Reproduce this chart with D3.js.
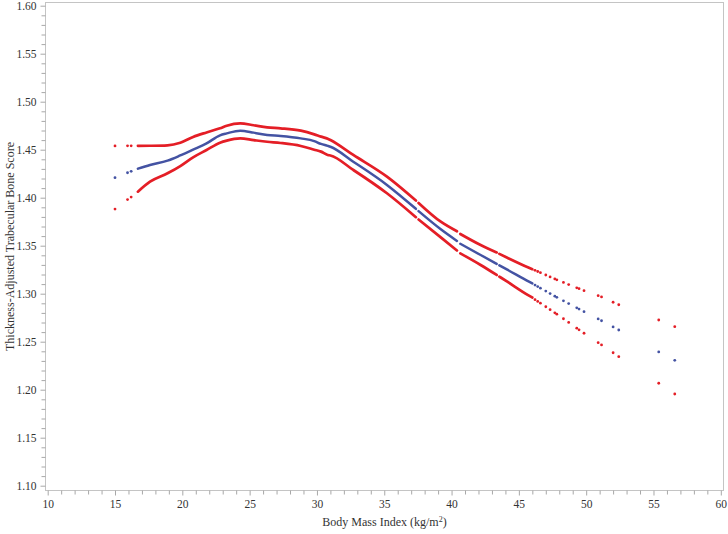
<!DOCTYPE html>
<html>
<head>
<meta charset="utf-8">
<script src="https://cdn.jsdelivr.net/npm/d3@7"></script>
<style>
  html, body { margin: 0; padding: 0; background: #fff; }
  svg { display: block; }
  text { font-family: "Liberation Serif", "Times New Roman", serif; fill: #333; }
</style>
</head>
<body>
<svg id="chart" width="728" height="534"></svg>
<script>
// ---- Data ----
// Dense part of the curves (null = visible gap between runs of points)
const denseBmi   = [16.7, 17.6, 18.9, 19.85, 20.8, 21.8, 22.8, 23.3, 24.3, 25.3, 26.3, 27.3, 28.8, 29.8, 30.3, 30.8, 31.0, 32.7, 35.2, 37.35, 37.45, 37.55, 39.2, 40.4, 40.52, 40.65, 42.16, 43.35, 43.45, 43.55, 44.14, 45.75, 46.0];
const denseFit   = [1.4302, 1.4340, 1.4386, 1.4440, 1.4500, 1.4565, 1.4650, 1.4670, 1.4698, 1.4678, 1.4653, 1.4643, 1.4618, 1.4590, 1.4560, 1.4540, 1.4531, 1.4375, 1.4133, 1.3884, null, 1.3860, 1.3671, 1.3550, null, 1.3520, 1.3403, 1.3310, null, 1.3295, 1.3250, 1.3125, 1.3107];
const denseLower = [1.4063, 1.4167, 1.4254, 1.4330, 1.4421, 1.4497, 1.4573, 1.4595, 1.4618, 1.4600, 1.4583, 1.4570, 1.4539, 1.4500, 1.4480, 1.4445, 1.4440, 1.4289, 1.4046, 1.3797, null, 1.3773, 1.3587, 1.3450, null, 1.3420, 1.3299, 1.3195, null, 1.3178, 1.3125, 1.2980, 1.2960];
const denseUpper = [1.4540, 1.4541, 1.4546, 1.4573, 1.4633, 1.4680, 1.4723, 1.4750, 1.4775, 1.4755, 1.4733, 1.4723, 1.4698, 1.4660, 1.4636, 1.4615, 1.4601, 1.4445, 1.4219, 1.3970, null, 1.3946, 1.3750, 1.3650, null, 1.3622, 1.3507, 1.3430, null, 1.3415, 1.3375, 1.3270, 1.3255];

// Isolated points
const sparseBmi   = [15.0, 15.93, 16.2, 46.2, 46.4, 46.6, 47.0, 47.32, 47.67, 47.82, 48.31, 48.7, 49.3, 49.47, 49.84, 50.89, 51.14, 52.0, 52.42, 55.39, 56.58];
const sparseFit   = [1.4209, 1.4260, 1.4275, 1.3090, 1.3074, 1.3058, 1.3027, 1.3001, 1.2974, 1.2962, 1.2926, 1.2897, 1.2853, 1.2840, 1.2813, 1.2737, 1.2718, 1.2654, 1.2622, 1.2393, 1.2306];
const sparseLower = [1.3882, 1.3980, 1.4007, 1.2938, 1.2920, 1.2901, 1.2864, 1.2834, 1.2801, 1.2787, 1.2739, 1.2701, 1.2641, 1.2624, 1.2588, 1.2490, 1.2466, 1.2385, 1.2344, 1.2067, 1.1955];
const sparseUpper = [1.4539, 1.4540, 1.4540, 1.3243, 1.3231, 1.3219, 1.3195, 1.3175, 1.3154, 1.3145, 1.3117, 1.3095, 1.3061, 1.3052, 1.3031, 1.2979, 1.2966, 1.2911, 1.2885, 1.2726, 1.2656];

const xTicks = [10, 15, 20, 25, 30, 35, 40, 45, 50, 55, 60];
const yTicks = [1.10, 1.15, 1.20, 1.25, 1.30, 1.35, 1.40, 1.45, 1.50, 1.55, 1.60];
const xTitle = "Body Mass Index (kg/m²)";
const yTitle = "Thickness-Adjusted Trabecular Bone Score";

// ---- Layout ----
const RED = "#e41e26", BLUE = "#4453a3", FRAME = "#c4c4c4";
const frame = { left: 45.5, top: 2.5, right: 723.5, bottom: 490.5 };

const svg = d3.select("#chart");
const x = d3.scaleLinear().domain([10, 60]).range([47.7, 720.8]);
const y = d3.scaleLinear().domain([1.10, 1.60]).range([485.7, 5.7]);

// frame
svg.append("rect")
  .attr("x", frame.left).attr("y", frame.top)
  .attr("width", frame.right - frame.left).attr("height", frame.bottom - frame.top)
  .attr("fill", "none").attr("stroke", FRAME).attr("stroke-width", 1);

// minor ticks
const xMinor = d3.range(10, 60.001, 1).filter(v => !xTicks.includes(v));
const yMinor = d3.range(110, 160.001, 1).map(v => v / 100).filter(v => !yTicks.some(t => Math.abs(t - v) < 1e-6));

const xAxis = svg.append("g").attr("transform", `translate(0,${frame.bottom})`)
  .call(d3.axisBottom(x).tickValues(xTicks).tickSize(5).tickPadding(4).tickFormat(d3.format("d")));
const xAxisMinor = svg.append("g").attr("transform", `translate(0,${frame.bottom})`)
  .call(d3.axisBottom(x).tickValues(xMinor).tickSize(4).tickFormat(""));
const yAxis = svg.append("g").attr("transform", `translate(${frame.left},0)`)
  .call(d3.axisLeft(y).tickValues(yTicks).tickSize(5).tickPadding(4).tickFormat(d3.format(".2f")));
const yAxisMinor = svg.append("g").attr("transform", `translate(${frame.left},0)`)
  .call(d3.axisLeft(y).tickValues(yMinor).tickSize(4).tickFormat(""));

[xAxis, xAxisMinor, yAxis, yAxisMinor].forEach(g => {
  g.select(".domain").remove();
  g.selectAll("line").attr("stroke", "#a8a8a8");
  g.selectAll("text").attr("font-family", "Liberation Serif, Times New Roman, serif")
    .attr("font-size", 11.5).attr("fill", "#333");
});

// axis titles
svg.append("text").attr("x", (frame.left + frame.right) / 2).attr("y", 526)
  .attr("text-anchor", "middle").attr("font-size", 12).text("Body Mass Index (kg/m")
  .append("tspan").attr("font-size", 8).attr("dy", -4).text("2")
  .select(function () { return this.parentNode; })
  .append("tspan").attr("dy", 4).text(")");

svg.append("text")
  .attr("transform", `translate(14,${(frame.top + frame.bottom) / 2}) rotate(-90)`)
  .attr("text-anchor", "middle").attr("font-size", 12).text(yTitle);

// curves (dense runs)
const plot = svg.append("g");
function denseLine(vals, color, w) {
  const pts = denseBmi.map((b, i) => ({ b, v: vals[i] }));
  const line = d3.line().defined(d => d.v != null)
    .x(d => x(d.b)).y(d => y(d.v)).curve(d3.curveMonotoneX);
  plot.append("path").attr("d", line(pts)).attr("fill", "none")
    .attr("stroke", color).attr("stroke-width", w).attr("stroke-linecap", "round")
    .attr("stroke-linejoin", "round");
}
denseLine(denseUpper, RED, 2.7);
denseLine(denseLower, RED, 2.7);
denseLine(denseFit, BLUE, 2.5);

// isolated points
function dots(vals, color) {
  plot.append("g").selectAll("circle").data(sparseBmi.map((b, i) => ({ b, v: vals[i] })))
    .join("circle").attr("cx", d => x(d.b)).attr("cy", d => y(d.v)).attr("r", 1.4)
    .attr("fill", color);
}
dots(sparseUpper, RED);
dots(sparseLower, RED);
dots(sparseFit, BLUE);
</script>
</body>
</html>
